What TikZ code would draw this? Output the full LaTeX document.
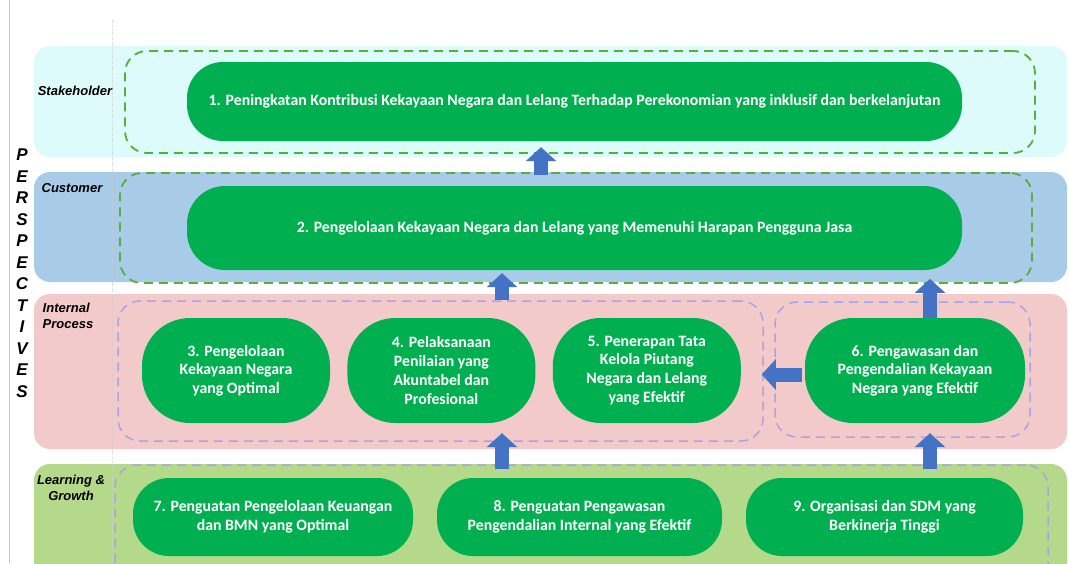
\documentclass[tikz,border=0pt]{standalone}
\usepackage{fontspec}
\setmainfont{Carlito}
\newfontfamily\labfont{Liberation Sans}
\usetikzlibrary{positioning,arrows.meta}
\definecolor{pillgreen}{HTML}{00B050}
\definecolor{dashgreen}{HTML}{56AE3C}
\definecolor{dashpurple}{HTML}{A9A3E6}
\definecolor{arrowblue}{HTML}{4472C4}
\definecolor{bandstake}{HTML}{DDFBFB}
\definecolor{bandcust}{HTML}{A8CCE8}
\definecolor{bandintern}{HTML}{F2CACA}
\definecolor{bandlearn}{HTML}{B5D98B}
\newcommand{\pillsize}{\fontsize{15.8}{18.7}\selectfont}

\begin{document}
\begin{tikzpicture}[x=1pt, y=-1pt,
     node distance = 17pt and 17pt,
        pill/.style = {rectangle, fill=pillgreen, text=white, align=center,
                       font=\pillsize\bfseries, inner sep=2pt},
        gbox/.style = {rectangle, draw=dashgreen, dash pattern=on 9pt off 6pt,
                       line width=1.8pt, rounded corners=22pt},
        pbox/.style = {rectangle, draw=dashpurple, dash pattern=on 9pt off 6pt,
                       line width=1.5pt, rounded corners=22pt},
        barrow/.style = {draw=arrowblue, line width=14pt,
                       -{Triangle[width=30pt,length=14pt]}},
        plabel/.style = {font=\labfont\bfseries\itshape\fontsize{13}{15.5}\selectfont,
                       align=center, inner sep=0pt},
        pletter/.style = {font=\labfont\bfseries\itshape\fontsize{17}{17}\selectfont,
                       inner sep=0pt}
                        ]
\clip (0,0) rectangle (1069,563);
% bands
\fill[bandstake]  (34,46)  [rounded corners=16pt] rectangle (1067,157);
\fill[bandcust]   (34,172) [rounded corners=16pt] rectangle (1067,282);
\fill[bandintern] (34,294) [rounded corners=16pt] rectangle (1067,449);
\fill[bandlearn]  (34,464) [rounded corners=16pt] rectangle (1067,590);
\draw[gray!45, line width=0.8pt] (9,0) -- (9,563);
\draw[gray!40, dotted] (112,20) -- (112,563);
% dashed groups
\node (stake) [gbox, minimum width=910pt, minimum height=102pt] at (580,102) {};
\node (cust)  [gbox, minimum width=912pt, minimum height=110pt] at (576,228) {};
\node (intl)  [pbox, minimum width=645pt, minimum height=140pt] at (440.5,371) {};
\node (intr)  [pbox, minimum width=255pt, minimum height=135pt] at (902.5,369.5) {};
\node (learn) [pbox, minimum width=933pt, minimum height=120pt] at (581.5,525) {};
% objectives
\node (p1) [pill, minimum width=775pt, minimum height=79pt, rounded corners=36pt] at (574.5,101.5)
  {1. Peningkatan Kontribusi Kekayaan Negara dan Lelang Terhadap Perekonomian yang inklusif dan berkelanjutan};
\node (p2) [pill, minimum width=775pt, minimum height=84pt, rounded corners=38pt] at (574.5,228)
  {2. Pengelolaan Kekayaan Negara dan Lelang yang Memenuhi Harapan Pengguna Jasa};
\node (p3) [pill, minimum width=188pt, minimum height=105pt, rounded corners=48pt] at (236,370.5)
  {3. Pengelolaan\\Kekayaan Negara\\yang Optimal};
\node (p4) [pill, minimum width=188pt, minimum height=105pt, rounded corners=48pt, right=of p3]
  {4. Pelaksanaan\\Penilaian yang\\Akuntabel dan\\Profesional};
\node (p5) [pill, minimum width=188pt, minimum height=105pt, rounded corners=48pt, right=of p4]
  {5. Penerapan Tata\\Kelola Piutang\\Negara dan Lelang\\yang Efektif};
\node (p6) [pill, minimum width=220pt, minimum height=105pt, rounded corners=48pt] at (915,370.5)
  {6. Pengawasan dan\\Pengendalian Kekayaan\\Negara yang Efektif};
\node (p7) [pill, minimum width=280pt, minimum height=78pt, rounded corners=36pt] at (273,517)
  {7. Penguatan Pengelolaan Keuangan\\dan BMN yang Optimal};
\node (p8) [pill, minimum width=285pt, minimum height=78pt, rounded corners=36pt] at (579.5,517)
  {8. Penguatan Pengawasan\\Pengendalian Internal yang Efektif};
\node (p9) [pill, minimum width=277pt, minimum height=78pt, rounded corners=36pt] at (884.5,517)
  {9. Organisasi dan SDM yang\\Berkinerja Tinggi};
% perspective labels
\node (lstake)  [plabel] at (75,91)  {Stakeholder};
\node (lcust)   [plabel] at (72,188) {Customer};
\node (lintern) [plabel, align=left] at (68,316) {Internal\\Process};
\node (llearn)  [plabel] at (71,488) {Learning \&\\Growth};
\foreach \l [count=\i from 0] in {P,E,R,S,P,E,C,T,I,V,E,S}
  \node (ps\i) [pletter] at (22,{155+21.5*\i}) {\l};
% arrows
\coordinate (colA) at (541,0);
\coordinate (colB) at (502,0);
\coordinate (colC) at (930,0);
\draw[barrow, shorten >=6pt, shorten <=-3pt] (colA |- cust.north) -- (colA |- p1.south);
\draw[barrow, shorten >=3pt] (colB |- intl.north) -- (colB |- p2.south);
\draw[barrow, shorten >=-5pt] (colC |- p6.north) -- (colC |- cust.south);
\draw[barrow, shorten >=-2pt, shorten <=3pt] ([yshift=-4pt]p6.west) -- ([yshift=-4pt]p6.west -| intl.east);
\draw[barrow, shorten >=10pt, shorten <=-5pt] (colB |- learn.north) -- (colB |- p4.south);
\draw[barrow, shorten >=10pt, shorten <=-5pt] (colC |- learn.north) -- (colC |- p6.south);
\end{tikzpicture}
\end{document}
